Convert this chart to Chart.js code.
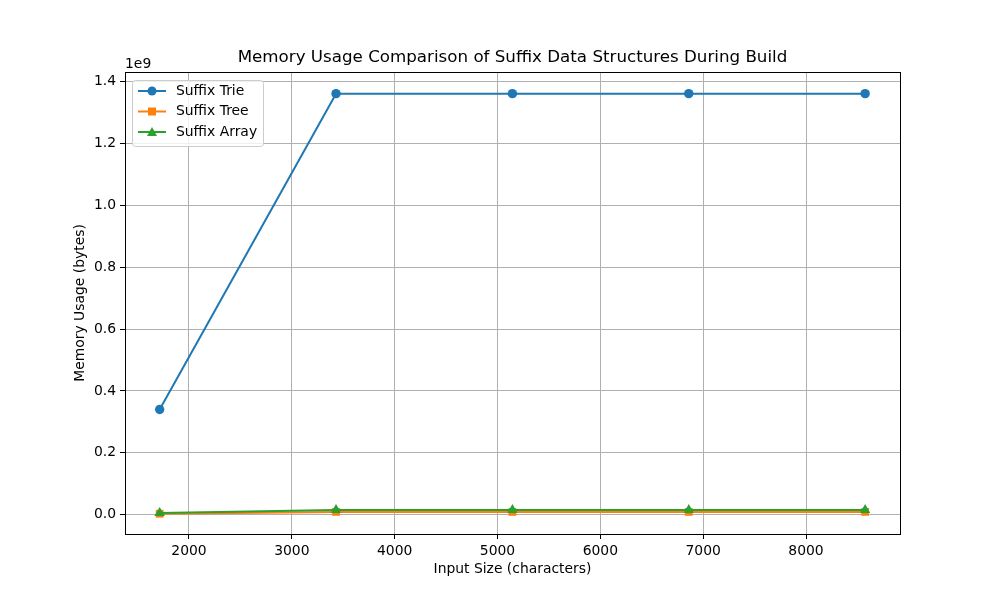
<!DOCTYPE html>
<html>
<head>
<meta charset="utf-8">
<script src="https://cdn.jsdelivr.net/npm/chart.js@4.4.1/dist/chart.umd.min.js"></script>
<style>
  body { margin: 0; background: #fff; }
  #wrap { width: 1000px; height: 600px; }
</style>
</head>
<body>
<div id="wrap"><canvas id="myChart" width="1000" height="600"></canvas></div>
<script>
// data
var inputSizes = [1715, 3430, 5145, 6860, 8575];
var trieBytes = [3.4e8, 1.361e9, 1.361e9, 1.361e9, 1.361e9];
var treeBytes = [3e6, 9e6, 9e6, 9e6, 9e6];
var arrayBytes = [5e6, 1.5e7, 1.5e7, 1.5e7, 1.5e7];
var seriesNames = ["Suffix Trie", "Suffix Tree", "Suffix Array"];
var xTicks = [2000, 3000, 4000, 5000, 6000, 7000, 8000];
var yTicks = [0, 0.2e9, 0.4e9, 0.6e9, 0.8e9, 1.0e9, 1.2e9, 1.4e9];

var FONT = "'DejaVu Sans', sans-serif";

function pts(ys) {
  return inputSizes.map(function (x, i) { return { x: x, y: ys[i] }; });
}

var extras = {
  id: "extras",
  afterDraw: function (chart) {
    var c = chart.ctx, a = chart.chartArea;
    c.save();
    // top/right spines
    c.strokeStyle = "#000";
    c.lineWidth = 1;
    c.strokeRect(Math.round(a.left) + 0.5, Math.round(a.top) + 0.5, Math.round(a.right - a.left), Math.round(a.bottom - a.top));
    // title
    c.fillStyle = "#000";
    c.font = "16.7px " + FONT;
    c.textAlign = "center";
    c.textBaseline = "middle";
    c.fillText("Memory Usage Comparison of Suffix Data Structures During Build", (a.left + a.right) / 2, 58);
    // offset text
    c.font = "13.9px " + FONT;
    c.textAlign = "left";
    c.textBaseline = "alphabetic";
    c.fillText("1e9", a.left, 68);
    // legend
    var lx = 132, ly = 80, lw = 131, lh = 66;
    c.fillStyle = "rgba(255,255,255,0.8)";
    c.strokeStyle = "#cccccc";
    c.beginPath();
    c.roundRect(lx + 0.5, ly + 0.5, lw, lh, 3);
    c.fill();
    c.stroke();
    chart.data.datasets.forEach(function (ds, i) {
      var y = 91 + i * 20.5;
      c.strokeStyle = ds.borderColor;
      c.lineWidth = 2;
      c.beginPath();
      c.moveTo(138, y);
      c.lineTo(166, y);
      c.stroke();
      c.fillStyle = ds.borderColor;
      c.beginPath();
      if (ds.pointStyle === "circle") {
        c.arc(152, y, 4.5, 0, Math.PI * 2);
      } else if (ds.pointStyle === "rect") {
        c.rect(148, y - 4, 8, 8);
      } else {
        c.moveTo(152, y - 5);
        c.lineTo(157, y + 4);
        c.lineTo(147, y + 4);
        c.closePath();
      }
      c.fill();
      c.fillStyle = "#000";
      c.font = "13.9px " + FONT;
      c.textBaseline = "middle";
      c.fillText(ds.label, 176, y);
    });
    c.restore();
  }
};

var ctx = document.getElementById("myChart").getContext("2d");
var myChart = new Chart(ctx, {
  type: "line",
  data: {
    datasets: [
      {
        label: seriesNames[0],
        data: pts(trieBytes),
        borderColor: "#1f77b4",
        backgroundColor: "#1f77b4",
        pointStyle: "circle",
        pointRadius: 4.7,
        order: 3
      },
      {
        label: seriesNames[1],
        data: pts(treeBytes),
        borderColor: "#ff7f0e",
        backgroundColor: "#ff7f0e",
        pointStyle: "rect",
        pointRadius: 5.5,
        order: 2
      },
      {
        label: seriesNames[2],
        data: pts(arrayBytes),
        borderColor: "#2ca02c",
        backgroundColor: "#2ca02c",
        pointStyle: "triangle",
        pointRadius: 6,
        order: 1
      }
    ]
  },
  options: {
    responsive: false,
    animation: false,
    layout: { padding: { top: 72, right: 100, left: 0, bottom: 0 } },
    elements: {
      line: { borderWidth: 2, tension: 0 },
      point: { borderWidth: 0, hoverRadius: 5 }
    },
    plugins: {
      legend: { display: false },
      tooltip: { enabled: false }
    },
    scales: {
      x: {
        type: "linear",
        min: 1378,
        max: 8914,
        afterFit: function (s) { s.height = 66; },
        afterBuildTicks: function (s) { s.ticks = xTicks.map(function (v) { return { value: v }; }); },
        ticks: {
          color: "#000",
          font: { family: FONT, size: 13.9 },
          padding: 4,
          maxRotation: 0,
          callback: function (v) { return String(v); }
        },
        grid: { color: "#b0b0b0", lineWidth: 1, tickLength: 5, tickColor: "#000" },
        border: { color: "#000", width: 1 },
        title: {
          display: true,
          text: "Input Size (characters)",
          color: "#000",
          font: { family: FONT, size: 13.9 },
          padding: { top: 0, bottom: 22 }
        }
      },
      y: {
        min: -0.0625e9,
        max: 1.431e9,
        afterFit: function (s) { s.width = 125; },
        afterBuildTicks: function (s) { s.ticks = yTicks.map(function (v) { return { value: v }; }); },
        ticks: {
          color: "#000",
          font: { family: FONT, size: 13.9 },
          padding: 4,
          callback: function (v) { return (v / 1e9).toFixed(1); }
        },
        grid: { color: "#b0b0b0", lineWidth: 1, tickLength: 5, tickColor: "#000" },
        border: { color: "#000", width: 1 },
        title: {
          display: true,
          text: "Memory Usage (bytes)",
          color: "#000",
          font: { family: FONT, size: 13.9 },
          padding: { top: 72, bottom: 0 }
        }
      }
    }
  },
  plugins: [extras]
});
</script>
</body>
</html>
